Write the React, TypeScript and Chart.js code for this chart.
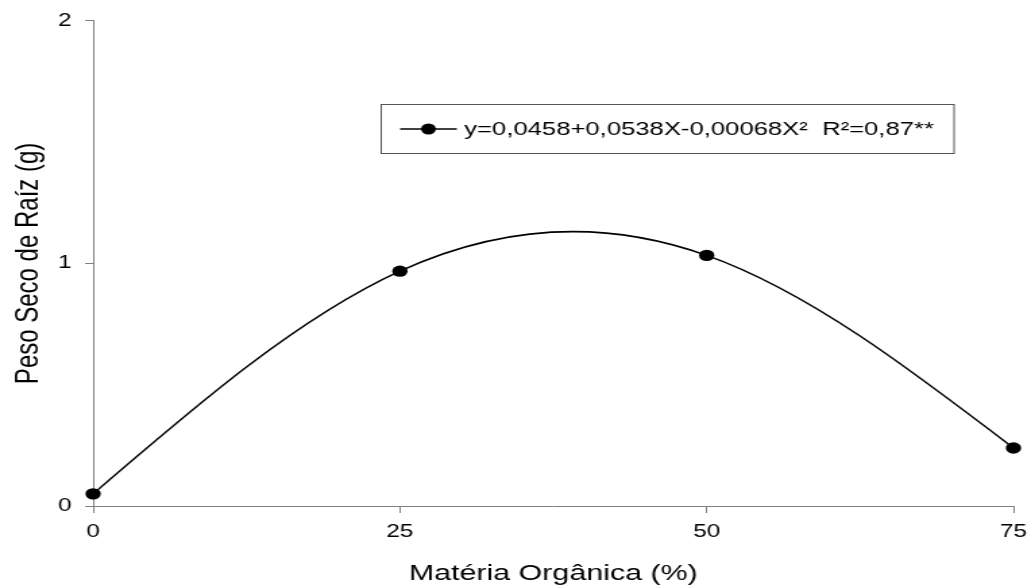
import React, { useEffect, useRef } from "react";
import { Chart, registerables } from "chart.js";

Chart.register(...registerables);

const xValues = [0, 25, 50, 75];
const yValues = [0.05, 0.968, 1.033, 0.239];
const xTicks = [0, 25, 50, 75];
const yTicks = [0, 1, 2];
const xTitle = "Matéria Orgânica (%)";
const yTitle = "Peso Seco de Raíz (g)";
const legendLabel = "y=0,0458+0,0538X-0,00068X²  R²=0,87**";

const FONT = "'Liberation Sans', Arial, sans-serif";
const CANVAS_W = 764;
const CANVAS_H = 587;

// Natural cubic spline control points, computed on the pixel positions Chart.js gives each point.
const naturalSplinePlugin = {
  id: "naturalSpline",
  beforeDatasetDraw(chart: any, args: any) {
    const meta = chart.getDatasetMeta(args.index);
    const pts = meta.data;
    const n = pts.length;
    if (n < 3) return;
    const xs = pts.map((p: any) => p.x);
    const ys = pts.map((p: any) => p.y);
    const h: number[] = [];
    for (let i = 0; i < n - 1; i++) h.push(xs[i + 1] - xs[i]);
    const M = new Array(n).fill(0);
    const a: number[] = [], b: number[] = [], c: number[] = [], d: number[] = [];
    for (let i = 1; i < n - 1; i++) {
      a.push(h[i - 1]);
      b.push(2 * (h[i - 1] + h[i]));
      c.push(h[i]);
      d.push(6 * ((ys[i + 1] - ys[i]) / h[i] - (ys[i] - ys[i - 1]) / h[i - 1]));
    }
    const m = b.length;
    for (let i = 1; i < m; i++) {
      const w = a[i] / b[i - 1];
      b[i] -= w * c[i - 1];
      d[i] -= w * d[i - 1];
    }
    const sol = new Array(m).fill(0);
    sol[m - 1] = d[m - 1] / b[m - 1];
    for (let i = m - 2; i >= 0; i--) sol[i] = (d[i] - c[i] * sol[i + 1]) / b[i];
    for (let i = 0; i < m; i++) M[i + 1] = sol[i];
    const slope = (i: number) => {
      if (i < n - 1) return (ys[i + 1] - ys[i]) / h[i] - (h[i] * (2 * M[i] + M[i + 1])) / 6;
      return (ys[i] - ys[i - 1]) / h[i - 1] + (h[i - 1] * (M[i - 1] + 2 * M[i])) / 6;
    };
    for (let i = 0; i < n; i++) {
      const s = slope(i);
      const hp = i > 0 ? h[i - 1] / 3 : 0;
      const hn = i < n - 1 ? h[i] / 3 : 0;
      pts[i].cp1x = xs[i] - hp;
      pts[i].cp1y = ys[i] - hp * s;
      pts[i].cp2x = xs[i] + hn;
      pts[i].cp2y = ys[i] + hn * s;
    }
    meta.dataset._pointsUpdated = true;
    meta.dataset._path = undefined;
  },
};

const legendPlugin = {
  id: "boxLegend",
  afterDraw(chart: any) {
    const ctx = chart.ctx;
    ctx.save();
    const left = 282.5, top = 104.5, right = 707, bottom = 153.5;
    ctx.strokeStyle = "#555";
    ctx.lineWidth = 1;
    ctx.strokeRect(left, top, right - left, bottom - top);
    const cy = 129;
    ctx.strokeStyle = "#000";
    ctx.lineWidth = 1.5;
    ctx.beginPath();
    ctx.moveTo(296.5, cy);
    ctx.lineTo(338.5, cy);
    ctx.stroke();
    ctx.fillStyle = "#000";
    ctx.beginPath();
    ctx.arc(317.5, cy, 5.5, 0, Math.PI * 2);
    ctx.fill();
    ctx.font = `19px ${FONT}`;
    ctx.textBaseline = "middle";
    ctx.textAlign = "left";
    ctx.fillText(legendLabel, 344, cy + 1);
    ctx.restore();
  },
};

export default function App() {
  const ref = useRef<HTMLCanvasElement | null>(null);
  useEffect(() => {
    document.body.style.margin = "0";
    const canvas = ref.current!;
    const chart = new Chart(canvas, {
      type: "line",
      data: {
        datasets: [
          {
            label: legendLabel,
            data: xValues.map((x, i) => ({ x, y: yValues[i] })),
            borderColor: "#000",
            backgroundColor: "#000",
            borderWidth: 1.5,
            pointRadius: 5.7,
            pointBackgroundColor: "#000",
            pointBorderWidth: 0,
            tension: 0.4,
            clip: false as any,
          },
        ],
      },
      options: {
        animation: false,
        responsive: false,
        devicePixelRatio: 1,
        layout: { padding: { top: 20, right: 13, bottom: 0, left: 0 } },
        plugins: { legend: { display: false }, tooltip: { enabled: false } },
        scales: {
          x: {
            type: "linear",
            min: 0,
            max: 75,
            afterBuildTicks: (s: any) => {
              s.ticks = xTicks.map((v) => ({ value: v }));
            },
            afterFit: (s: any) => {
              s.height = 81;
              s.paddingLeft = 0;
              s.paddingRight = 0;
            },
            ticks: {
              color: "#000",
              font: { family: FONT, size: 18 },
              padding: 8,
              maxRotation: 0,
            },
            grid: {
              drawOnChartArea: false,
              drawTicks: true,
              tickLength: 7,
              color: "#808080",
              lineWidth: 1,
            },
            border: { display: true, color: "#808080", width: 1 },
            title: {
              display: true,
              text: xTitle,
              color: "#000",
              font: { family: FONT, size: 22.5 },
              padding: { top: 0, bottom: 0 },
            },
          },
          y: {
            type: "linear",
            min: 0,
            max: 2,
            afterBuildTicks: (s: any) => {
              s.ticks = yTicks.map((v) => ({ value: v }));
            },
            afterFit: (s: any) => {
              s.width = 69;
            },
            ticks: {
              color: "#000",
              font: { family: FONT, size: 18 },
              padding: 10,
            },
            grid: {
              drawOnChartArea: false,
              drawTicks: true,
              tickLength: 6,
              color: "#808080",
              lineWidth: 1,
            },
            border: { display: true, color: "#808080", width: 1 },
            title: {
              display: true,
              text: yTitle,
              color: "#000",
              font: { family: FONT, size: 24 },
              padding: { top: 7, bottom: 0 },
            },
          },
        },
      },
      plugins: [naturalSplinePlugin, legendPlugin],
    });
    return () => chart.destroy();
  }, []);
  return (
    <div style={{ width: 1031, height: 587, overflow: "hidden" }}>
      <canvas
        ref={ref}
        width={CANVAS_W}
        height={CANVAS_H}
        style={{ width: "1031px", height: "587px", display: "block" }}
      />
    </div>
  );
}
